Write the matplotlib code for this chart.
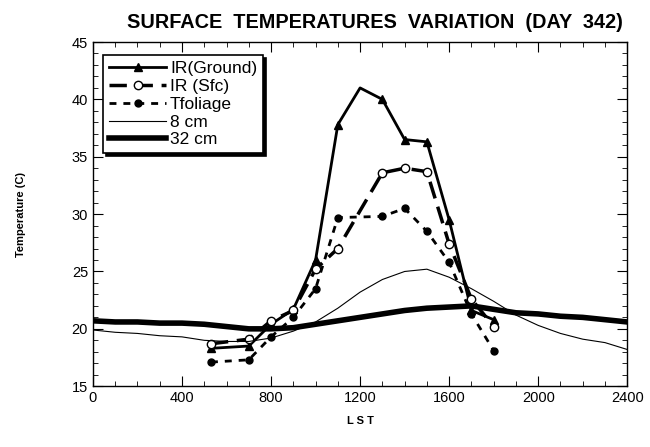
import matplotlib
matplotlib.use("Agg")
import matplotlib.pyplot as plt
from matplotlib.ticker import MultipleLocator

plt.rcParams["font.family"] = ["Liberation Sans", "DejaVu Sans"]

# hourly IR readings (LST)
ir_hours = [530, 700, 800, 900, 1000, 1100, 1200, 1300, 1400, 1500, 1600, 1700, 1800]
ir_ground = [18.3, 18.5, 20.4, 21.7, 26.0, 37.8, 41.0, 40.0, 36.5, 36.3, 29.5, 21.6, 20.8]
ground_marks = [0, 1, 2, 3, 4, 5, 7, 8, 9, 10, 11, 12]

sfc_hours = [530, 700, 800, 900, 1000, 1100, 1300, 1400, 1500, 1600, 1700, 1800]
ir_sfc = [18.7, 19.1, 20.7, 21.6, 25.2, 27.0, 33.6, 34.0, 33.7, 27.4, 22.6, 20.2]

fol_hours = [530, 700, 800, 900, 1000, 1100, 1300, 1400, 1500, 1600, 1700, 1800]
t_foliage = [17.1, 17.3, 19.3, 21.0, 23.5, 29.7, 29.8, 30.5, 28.5, 25.8, 21.3, 18.1]

# soil temperatures, every 100
soil_hours = list(range(0, 2500, 100))
t_8cm = [19.9, 19.7, 19.6, 19.4, 19.3, 19.0, 18.9, 18.9, 19.2, 19.8, 20.6, 21.8, 23.2,
         24.3, 25.0, 25.2, 24.5, 23.5, 22.4, 21.2, 20.3, 19.6, 19.1, 18.8, 18.2]
t_32cm = [20.7, 20.6, 20.6, 20.5, 20.5, 20.4, 20.2, 20.0, 20.0, 20.1, 20.4, 20.7, 21.0,
          21.3, 21.6, 21.8, 21.9, 22.0, 21.7, 21.4, 21.3, 21.1, 21.0, 20.8, 20.6]

fig = plt.figure(figsize=(6.5, 4.47), dpi=100)
ax = fig.add_axes([0.143, 0.136, 0.822, 0.770])

ax.plot(ir_hours, ir_ground, color="black", lw=2, marker="^", ms=6,
        markevery=ground_marks, label="IR(Ground)")
ax.plot(sfc_hours, ir_sfc, color="black", lw=2.5, dashes=(5, 2.5), marker="o", ms=6,
        mfc="white", mec="black", mew=1, label="IR (Sfc)")
ax.plot(fol_hours, t_foliage, color="black", lw=2, dashes=(2.5, 2.5), marker="o", ms=5,
        label="Tfoliage")
ax.plot(soil_hours, t_8cm, color="black", lw=0.8, label="8 cm")
ax.plot(soil_hours, t_32cm, color="black", lw=4, label="32 cm")

ax.set_xlim(0, 2400)
ax.set_ylim(15, 45)
ax.xaxis.set_major_locator(MultipleLocator(400))
ax.xaxis.set_minor_locator(MultipleLocator(100))
ax.yaxis.set_major_locator(MultipleLocator(5))
ax.yaxis.set_minor_locator(MultipleLocator(1))
ax.tick_params(which="both", direction="in", top=True, right=True, labelsize=10.5)
ax.tick_params(which="major", length=7)
ax.tick_params(which="minor", length=3.5)
for s in ax.spines.values():
    s.set_linewidth(1)

ax.set_xlabel("L S T", fontsize=8, fontweight="bold", labelpad=8)
ax.set_ylabel("Temperature (C)", fontsize=8, fontweight="bold", labelpad=33)
ax.set_title("SURFACE  TEMPERATURES  VARIATION  (DAY  342)",
             fontsize=14.3, fontweight="bold", pad=10, x=0.528)

leg = ax.legend(loc="upper left", bbox_to_anchor=(0.019, 0.962), borderaxespad=0,
                fancybox=False, framealpha=1, edgecolor="black", fontsize=12.5,
                handlelength=3.3, handletextpad=0.2, labelspacing=0.15,
                borderpad=0.35, shadow={"color": "black", "alpha": 1})
leg.get_frame().set_linewidth(1.2)

fig.savefig("out.png", dpi=100)
